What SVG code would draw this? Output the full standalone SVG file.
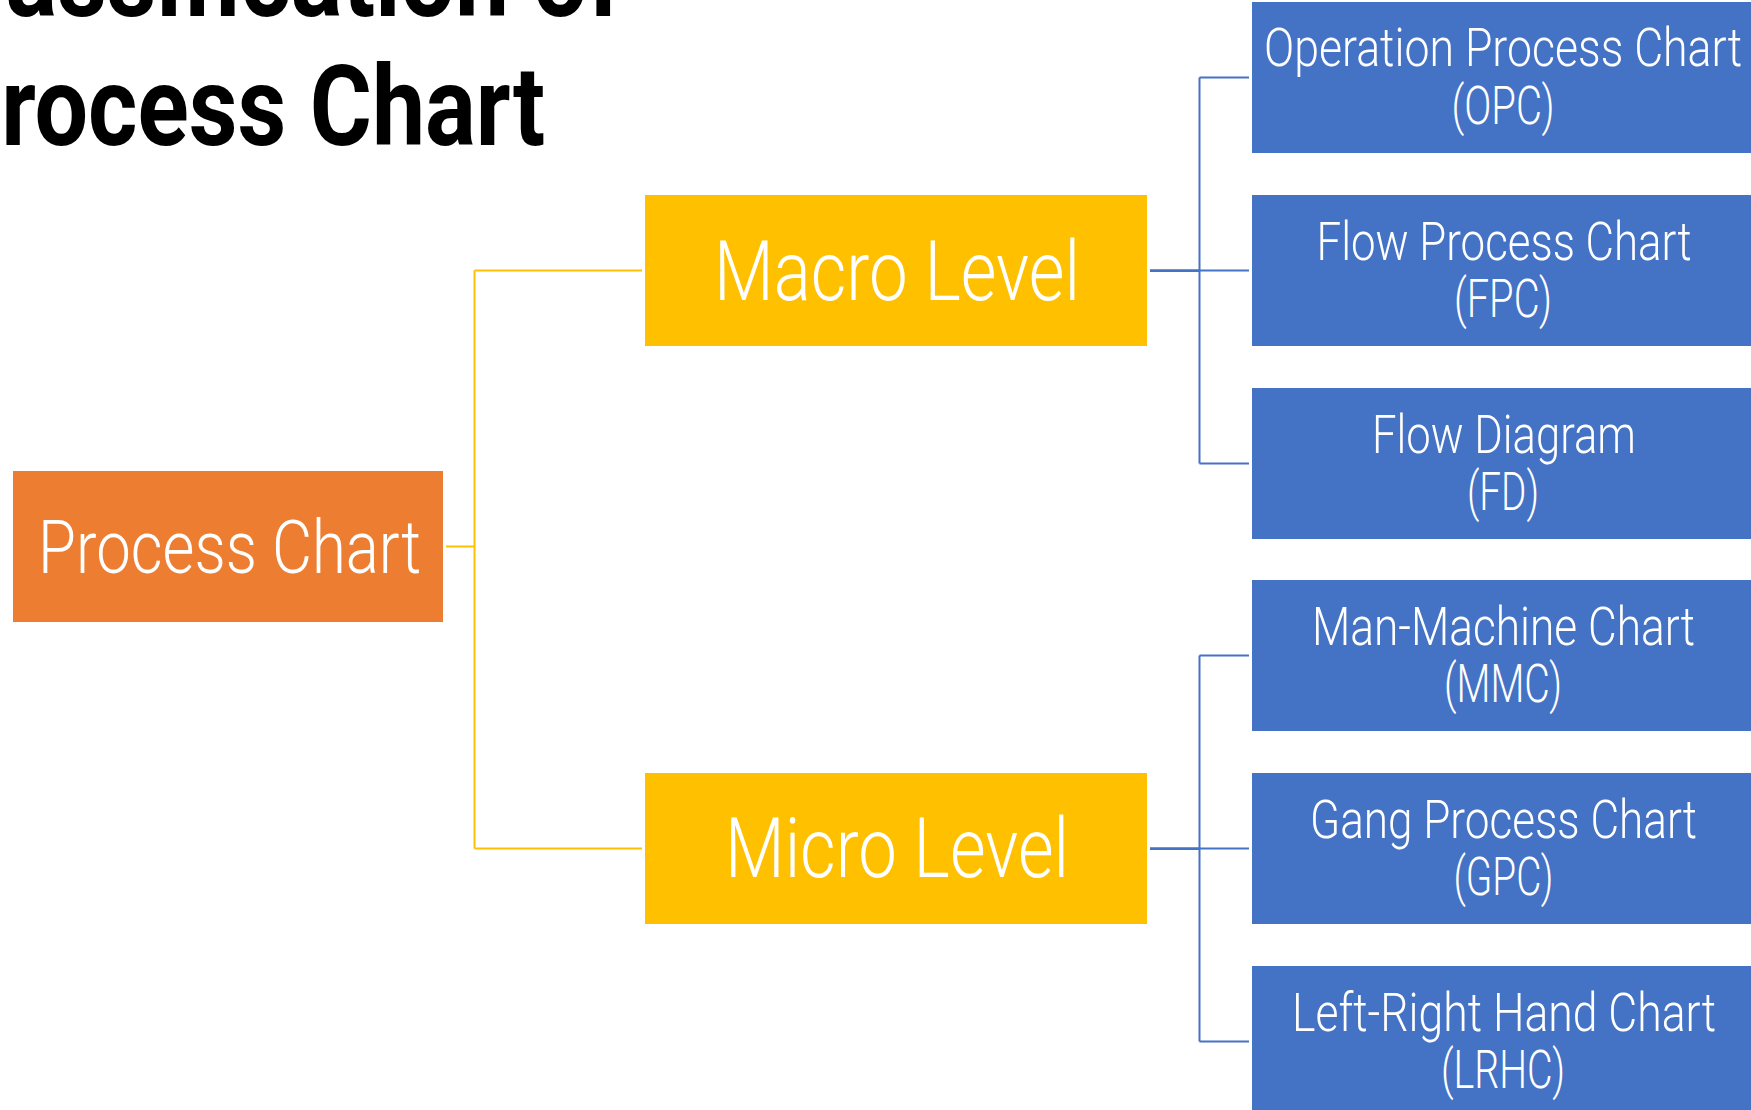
<svg xmlns="http://www.w3.org/2000/svg" width="1751" height="1110" viewBox="0 0 1751 1110">
  <style>
    .title { font-family: Roboto, "Liberation Sans", sans-serif; font-weight: 700; font-size: 112px; fill: #000000; }
    .lbl { font-family: Roboto, "Liberation Sans", sans-serif; font-weight: 300; fill: #FFFFFF; text-anchor: middle; }
    .big { font-size: 84px; }
    .root { font-size: 74px; }
    .small { font-size: 54px; }
    .orange { fill: #ED7D31; }
    .yellow { fill: #FFC000; }
    .blue { fill: #4472C4; }
    .cy { stroke: #FFC000; stroke-width: 2; fill: none; }
    .cb { stroke: #4472C4; stroke-width: 2; fill: none; }
    .cbp { stroke: #4472C4; stroke-width: 2.75; fill: none; }
  </style>
  <rect width="1751" height="1110" fill="#FFFFFF"/>

  <g id="title">
    <text class="title" x="622" y="16" text-anchor="end" textLength="705" lengthAdjust="spacingAndGlyphs">Classification of</text>
    <text class="title" x="545" y="145" text-anchor="end" textLength="605" lengthAdjust="spacingAndGlyphs">Process Chart</text>
  </g>

  <g id="connectors">
    <path class="cy" d="M446 546.5 H474.5 M474.5 270.5 V848.5 M474.5 270.5 H642 M474.5 848.5 H642"/>
    <path class="cbp" d="M1150 270.5 H1199.5 M1150 848.5 H1199.5"/>
    <path class="cb" d="M1199.5 77.5 V463.5 M1199.5 77.5 H1249 M1199.5 270.5 H1249 M1199.5 463.5 H1249"/>
    <path class="cb" d="M1199.5 655.5 V1041.5 M1199.5 655.5 H1249 M1199.5 848.5 H1249 M1199.5 1041.5 H1249"/>
  </g>

  <g id="node-process-chart">
    <rect class="orange" x="13" y="471" width="430" height="151"/>
    <text class="lbl root" x="229.5" y="573" textLength="383" lengthAdjust="spacingAndGlyphs">Process Chart</text>
  </g>

  <g id="node-macro-level">
    <rect class="yellow" x="645" y="195" width="502" height="151"/>
    <text class="lbl big" x="897" y="300" textLength="366" lengthAdjust="spacingAndGlyphs">Macro Level</text>
  </g>

  <g id="node-micro-level">
    <rect class="yellow" x="645" y="773" width="502" height="151"/>
    <text class="lbl big" x="897" y="877" textLength="344" lengthAdjust="spacingAndGlyphs">Micro Level</text>
  </g>

  <g id="node-opc">
    <rect class="blue" x="1252" y="2" width="501" height="151"/>
    <text class="lbl small" x="1503" y="66" textLength="478" lengthAdjust="spacingAndGlyphs">Operation Process Chart</text>
    <text class="lbl small" x="1503" y="124" textLength="103" lengthAdjust="spacingAndGlyphs">(OPC)</text>
  </g>

  <g id="node-fpc">
    <rect class="blue" x="1252" y="195" width="501" height="151"/>
    <text class="lbl small" x="1504" y="260" textLength="375" lengthAdjust="spacingAndGlyphs">Flow Process Chart</text>
    <text class="lbl small" x="1503" y="317" textLength="98" lengthAdjust="spacingAndGlyphs">(FPC)</text>
  </g>

  <g id="node-fd">
    <rect class="blue" x="1252" y="388" width="501" height="151"/>
    <text class="lbl small" x="1504" y="453" textLength="264" lengthAdjust="spacingAndGlyphs">Flow Diagram</text>
    <text class="lbl small" x="1503" y="510" textLength="72" lengthAdjust="spacingAndGlyphs">(FD)</text>
  </g>

  <g id="node-mmc">
    <rect class="blue" x="1252" y="580" width="501" height="151"/>
    <text class="lbl small" x="1503.5" y="645" textLength="383" lengthAdjust="spacingAndGlyphs">Man-Machine Chart</text>
    <text class="lbl small" x="1503" y="702" textLength="118" lengthAdjust="spacingAndGlyphs">(MMC)</text>
  </g>

  <g id="node-gpc">
    <rect class="blue" x="1252" y="773" width="501" height="151"/>
    <text class="lbl small" x="1503.5" y="838" textLength="387" lengthAdjust="spacingAndGlyphs">Gang Process Chart</text>
    <text class="lbl small" x="1503.5" y="895" textLength="100" lengthAdjust="spacingAndGlyphs">(GPC)</text>
  </g>

  <g id="node-lrhc">
    <rect class="blue" x="1252" y="966" width="501" height="151"/>
    <text class="lbl small" x="1504" y="1031" textLength="424" lengthAdjust="spacingAndGlyphs">Left-Right Hand Chart</text>
    <text class="lbl small" x="1503" y="1088" textLength="124" lengthAdjust="spacingAndGlyphs">(LRHC)</text>
  </g>
</svg>
